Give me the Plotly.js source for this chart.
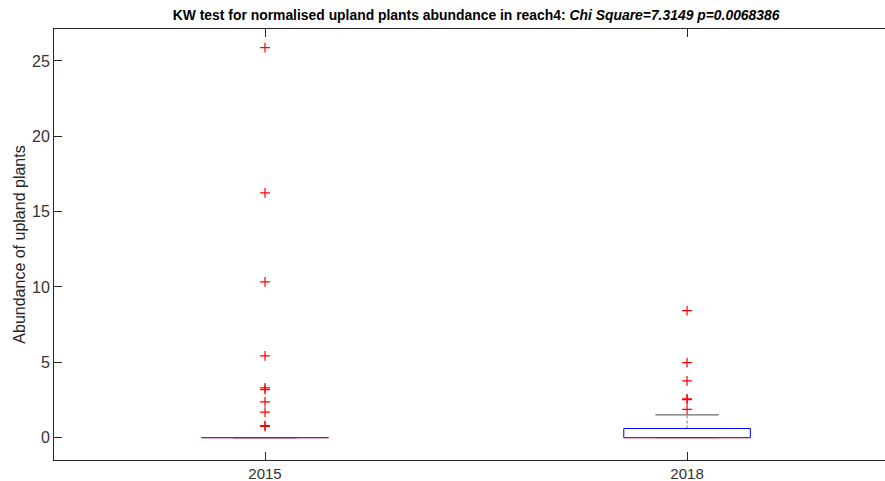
<!DOCTYPE html>
<html>
<head>
<meta charset="utf-8">
<script src="https://cdn.plot.ly/plotly-3.0.1.min.js"></script>
<style>html,body{margin:0;padding:0;background:#fff;}#chart{width:885px;height:481px;}</style>
</head>
<body>
<div id="chart"></div>
<script>
// ---- data ----
const categories = ['2015', '2018'];
const q1 = [0, 0];
const median = [0, 0];
const q3 = [0, 0.6];
const lowerWhisker = [0, 0];
const upperWhisker = [0, 1.5];
const outliers2015 = [25.88, 16.24, 10.33, 5.42, 3.3, 3.18, 2.37, 1.69, 0.8, 0.74];
const outliers2018 = [8.42, 4.98, 3.76, 2.57, 2.52, 1.87];
const outliers = [outliers2015, outliers2018];

// ---- build traces ----
const halfBox = 0.15;
const halfCap = 0.075;
const traces = [];
categories.forEach((c, i) => {
  const x = i + 1;
  traces.push({
    type: 'scatter', mode: 'lines', hoverinfo: 'skip', showlegend: false,
    x: [x, x, null, x, x],
    y: [q3[i], upperWhisker[i], null, q1[i], lowerWhisker[i]],
    line: {color: '#7a7a7a', width: 1, dash: '3px,2px'}
  });
  traces.push({
    type: 'scatter', mode: 'lines', hoverinfo: 'skip', showlegend: false,
    x: [x - halfCap, x + halfCap, null, x - halfCap, x + halfCap],
    y: [upperWhisker[i], upperWhisker[i], null, lowerWhisker[i], lowerWhisker[i]],
    line: {color: '#6e6e6e', width: 1.3}
  });
  traces.push({
    type: 'scatter', mode: 'lines', hoverinfo: 'skip', showlegend: false,
    x: [x - halfBox, x + halfBox, x + halfBox, x - halfBox, x - halfBox],
    y: [q1[i], q1[i], q3[i], q3[i], q1[i]],
    line: {color: '#0000ff', width: 1}
  });
  traces.push({
    type: 'scatter', mode: 'lines', hoverinfo: 'skip', showlegend: false,
    x: [x - halfBox, x + halfBox],
    y: [median[i], median[i]],
    line: {color: '#e0002a', width: 1.3}
  });
  traces.push({
    type: 'scatter', mode: 'markers', showlegend: false,
    x: outliers[i].map(() => x),
    y: outliers[i],
    marker: {symbol: 'cross-thin-open', size: 7, color: '#ff0000', line: {color: '#ff0000', width: 1.2}}
  });
});

const layout = {
  width: 885, height: 481,
  margin: {l: 54, r: 0, t: 29, b: 21},
  paper_bgcolor: '#ffffff', plot_bgcolor: '#ffffff',
  showlegend: false,
  font: {family: 'Liberation Sans, Arial, sans-serif', color: '#262626'},
  title: {
    text: '<b>KW test for normalised upland plants abundance in reach4: <i>Chi Square=7.3149 p=0.0068386</i></b>',
    font: {size: 13.9, color: '#000000', family: 'Liberation Sans, Arial, sans-serif'},
    x: 0.538, xref: 'container', xanchor: 'center',
    y: 1 - 15 / 481, yref: 'container', yanchor: 'middle'
  },
  xaxis: {
    range: [0.5, 2.469],
    tickvals: [1, 2], ticktext: categories,
    ticks: 'inside', ticklen: 8, tickcolor: '#262626', tickwidth: 1,
    showline: true, linecolor: '#262626', linewidth: 1, mirror: 'allticks',
    showgrid: false, zeroline: false,
    tickfont: {size: 15, color: '#333333'}
  },
  yaxis: {
    range: [-1.49, 27.12],
    tickvals: [0, 5, 10, 15, 20, 25],
    ticks: 'inside', ticklen: 8, tickcolor: '#262626', tickwidth: 1,
    showline: true, linecolor: '#262626', linewidth: 1,
    showgrid: false, zeroline: false,
    tickfont: {size: 16, color: '#333333'},
    title: {text: 'Abundance of upland plants', font: {size: 16, color: '#262626'}, standoff: 2}
  }
};

Plotly.newPlot('chart', traces, layout, {displayModeBar: false, staticPlot: true});
</script>
</body>
</html>
